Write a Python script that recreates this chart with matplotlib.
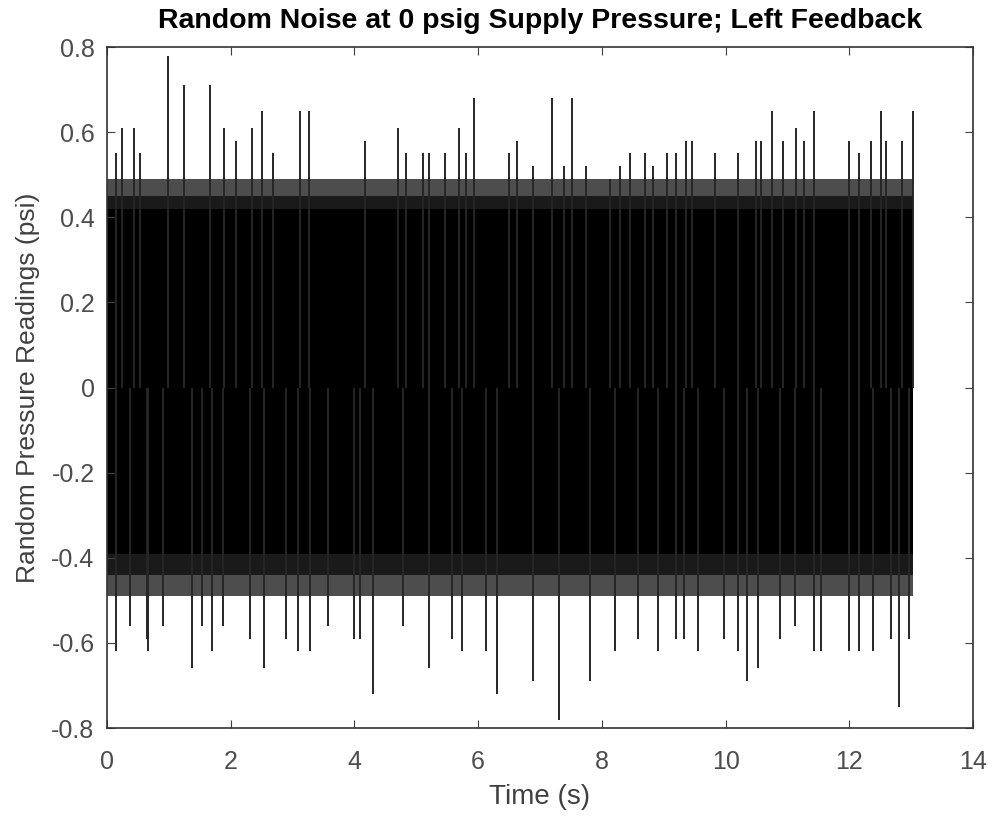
import numpy as np
import matplotlib.pyplot as plt

plt.rcParams['font.family'] = ['Liberation Sans', 'DejaVu Sans']

# time span of the record (s)
t_start, t_end = 0.0, 13.03

# dense noise band (psi): solid core, dark fringe and the outer, thinner fringe
core_lo, core_hi = -0.39, 0.42
inner_lo, inner_hi = -0.44, 0.45
fringe_lo, fringe_hi = -0.49, 0.49

# positive spikes: time (s), peak (psi)
up_t = [0.14, 0.24, 0.44, 0.53, 0.98, 1.25, 1.66, 1.89, 2.09, 2.34, 2.51, 2.69,
        3.12, 3.27, 4.17, 4.71, 4.84, 5.11, 5.21, 5.47, 5.69, 5.81, 5.94, 6.50,
        6.62, 6.88, 7.19, 7.39, 7.51, 7.74, 8.13, 8.29, 8.45, 8.70, 8.83, 9.05,
        9.20, 9.36, 9.46, 9.83, 10.20, 10.49, 10.58, 10.75, 10.93, 11.13, 11.26,
        11.43, 12.00, 12.15, 12.35, 12.51, 12.59, 12.85, 13.03]
up_v = [0.55, 0.61, 0.61, 0.55, 0.78, 0.71, 0.71, 0.61, 0.58, 0.61, 0.65, 0.55,
        0.65, 0.65, 0.58, 0.61, 0.55, 0.55, 0.55, 0.55, 0.61, 0.55, 0.68, 0.55,
        0.58, 0.52, 0.68, 0.52, 0.68, 0.52, 0.49, 0.52, 0.55, 0.55, 0.52, 0.55,
        0.55, 0.58, 0.58, 0.55, 0.55, 0.58, 0.58, 0.65, 0.58, 0.61, 0.58,
        0.65, 0.58, 0.55, 0.58, 0.65, 0.58, 0.58, 0.65]

# negative spikes: time (s), trough (psi)
dn_t = [0.14, 0.37, 0.64, 0.67, 0.91, 1.37, 1.53, 1.69, 1.88, 2.31, 2.54, 2.89,
        3.09, 3.28, 3.57, 4.00, 4.09, 4.30, 4.79, 5.21, 5.57, 5.74, 6.13, 6.30,
        6.89, 7.30, 7.80, 8.21, 8.59, 8.90, 9.20, 9.33, 9.56, 9.98, 10.20, 10.35,
        10.52, 10.88, 11.12, 11.43, 11.55, 12.00, 12.15, 12.39, 12.68, 12.80, 12.96]
dn_v = [-0.62, -0.56, -0.59, -0.62, -0.56, -0.66, -0.56, -0.62, -0.56, -0.59, -0.66, -0.59,
        -0.62, -0.62, -0.56, -0.59, -0.59, -0.72, -0.56, -0.66, -0.59, -0.62, -0.62, -0.72,
        -0.69, -0.78, -0.69, -0.62, -0.59, -0.62, -0.59, -0.59, -0.62, -0.59, -0.62, -0.69,
        -0.66, -0.59, -0.56, -0.62, -0.62, -0.62, -0.62, -0.62, -0.59, -0.75, -0.59]

fig = plt.figure(figsize=(9.93, 8.16), dpi=100)
ax = fig.add_axes([0.1078, 0.1078, 0.8721, 0.8346])

span = [t_start, t_end]
ax.fill_between(span, fringe_lo, fringe_hi, color='0.3', lw=0)
ax.fill_between(span, inner_lo, inner_hi, color='0.1', lw=0)
ax.fill_between(span, core_lo, core_hi, color='black', lw=0)
ax.vlines(up_t, 0, up_v, color='0.15', lw=1.4)
ax.vlines(dn_t, dn_v, 0, color='0.15', lw=1.4)

ax.set_xlim(0, 14)
ax.set_ylim(-0.8, 0.8)
ax.set_xticks(np.arange(0, 15, 2))
ax.set_yticks(np.arange(-0.8, 0.81, 0.2))
ax.set_yticklabels(['-0.8', '-0.6', '-0.4', '-0.2', '0', '0.2', '0.4', '0.6', '0.8'])
ax.tick_params(direction='in', top=True, right=True, length=6, labelsize=18,
               colors='0.25', labelcolor='0.3')
ax.tick_params(axis='x', pad=16)
ax.tick_params(axis='y', pad=9)
for s in ax.spines.values():
    s.set_color('0.2')
    s.set_linewidth(1.2)

ax.set_xlabel('Time (s)', fontsize=20, color='0.25', labelpad=7)
ax.set_ylabel('Random Pressure Readings (psi)', fontsize=19, color='0.25', labelpad=8)
ax.set_title('Random Noise at 0 psig Supply Pressure; Left Feedback',
             fontsize=20.5, fontweight='bold', pad=14)

fig.savefig('out.png')
